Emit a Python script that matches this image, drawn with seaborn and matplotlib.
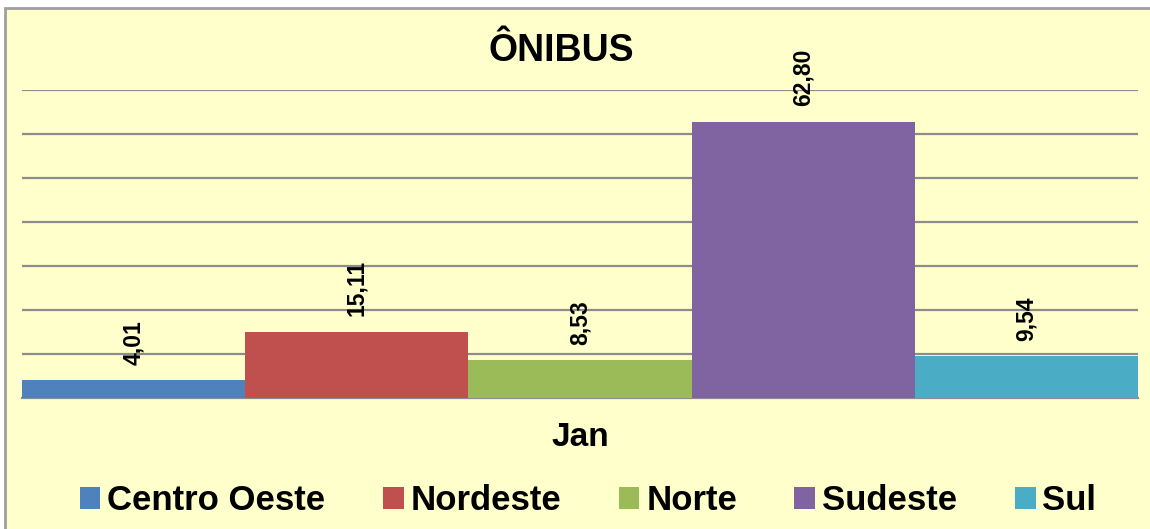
import seaborn as sns
import matplotlib.pyplot as plt
import pandas as pd
from matplotlib.patches import Rectangle, Patch

# dados do grafico
regioes = ["Centro Oeste", "Nordeste", "Norte", "Sudeste", "Sul"]
valores = [4.01, 15.11, 8.53, 62.80, 9.54]
mes = "Jan"
cores = ["#4F81BD", "#C0504D", "#9BBB59", "#8064A2", "#4BACC6"]

df = pd.DataFrame({"mes": [mes] * len(regioes), "regiao": regioes, "valor": valores})

sns.set_style("white")
plt.rcParams["font.family"] = ["Liberation Sans", "DejaVu Sans"]
plt.rcParams["font.weight"] = "bold"
plt.rcParams["text.color"] = "black"
plt.rcParams["xtick.color"] = "black"

fundo = "#FFFFCC"
fig = plt.figure(figsize=(11.5, 5.29), dpi=100, facecolor="white")
# moldura do grafico
fig.patches.append(Rectangle((5 / 1150, -0.1), 1.2, 1 - 8 / 529 + 0.1, transform=fig.transFigure,
                             facecolor=fundo, edgecolor="#A0A0A0", linewidth=2, zorder=-5))

ax = fig.add_axes([22 / 1150, 1 - 398 / 529, (1138 - 22) / 1150, (398 - 90) / 529])
ax.set_zorder(2)
ax.patch.set_alpha(0)

sns.barplot(data=df, x="mes", y="valor", hue="regiao", palette=cores, width=1,
            saturation=1, ax=ax, legend=False, zorder=3, linewidth=0)

ax.set_xlim(-0.5, 0.5)
ax.set_ylim(0, 70)
ax.set_yticks(range(10, 71, 10))
ax.yaxis.grid(True, color="#8C8C8C", linewidth=1.6, zorder=0)
ax.set_axisbelow(True)
ax.tick_params(axis="y", left=False, labelleft=False)
ax.set_xlabel("")
ax.set_ylabel("")
ax.set_xticks([0])
ax.set_xticklabels([mes])
ax.tick_params(axis="x", which="major", length=0, pad=17, labelsize=24, labelcolor="black")
ax.set_xticks([-0.5, 0.5], minor=True)
ax.tick_params(axis="x", which="minor", length=7, width=1.5, color="#8C8C8C")
for s in ["left", "right", "top"]:
    ax.spines[s].set_visible(False)
ax.spines["bottom"].set_color("#8C8C8C")
ax.spines["bottom"].set_linewidth(1.6)

for cont in ax.containers:
    rotulos = [f"{b.get_height():.2f}".replace(".", ",") for b in cont]
    ax.bar_label(cont, labels=rotulos, rotation=90, padding=11, fontsize=16.5,
                 fontweight="bold", color="black")

fig.text(561 / 1150, 1 - 51 / 529, "ÔNIBUS", ha="center", va="center", fontsize=27,
         fontweight="bold", color="black")

alcas = [Patch(facecolor=c, edgecolor="none") for c in cores]
leg = fig.legend(alcas, regioes, loc="center", bbox_to_anchor=(588 / 1150, 1 - 501 / 529), ncol=5,
                 frameon=False, fontsize=25, handlelength=0.6, handleheight=0.6, handletextpad=0.2,
                 columnspacing=1.65, borderaxespad=0)
for t in leg.get_texts():
    t.set_color("black")

fig.savefig("out.png", dpi=100, facecolor=fig.get_facecolor())
